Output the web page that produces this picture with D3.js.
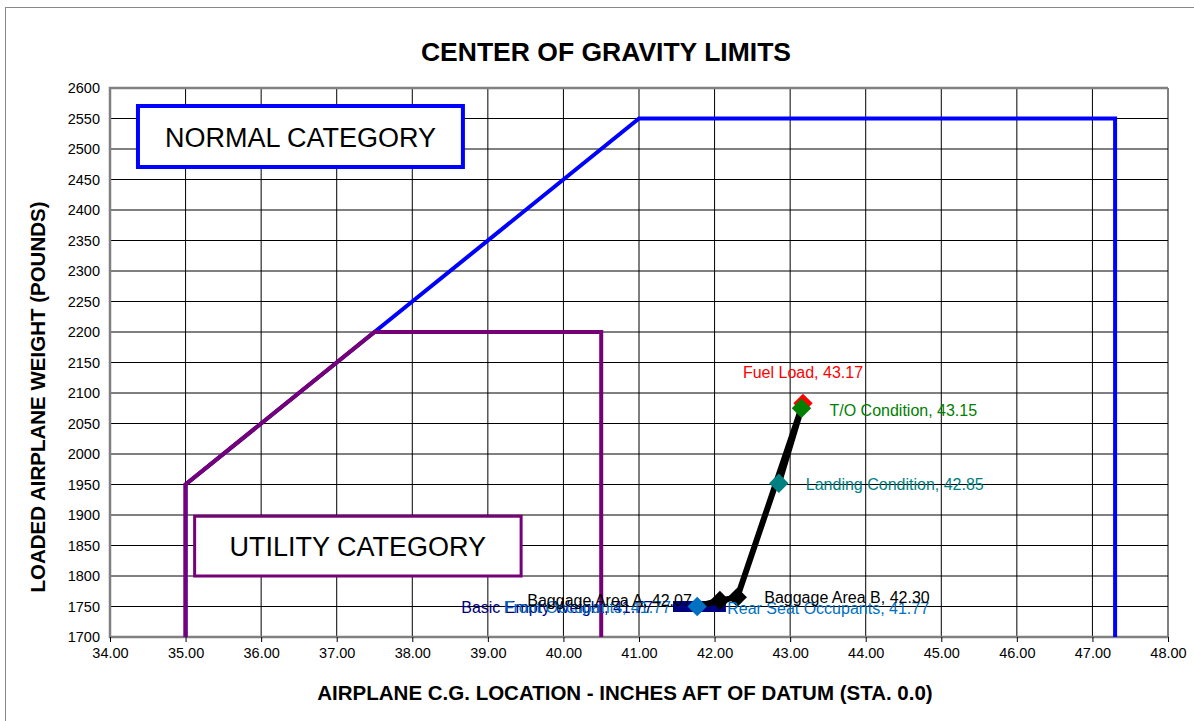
<!DOCTYPE html>
<html>
<head>
<meta charset="utf-8">
<script src="https://cdn.jsdelivr.net/npm/d3@7"></script>
<style>
body { margin: 0; background: #fff; }
text { font-family: "Liberation Sans", Arial, sans-serif; }
</style>
</head>
<body>
<script>
// envelopes
var normalCg = [35.0, 35.0, 41.0, 47.3, 47.3];
var normalWt = [1700, 1950, 2550, 2550, 1700];
var utilityCg = [35.0, 35.0, 37.5, 40.5, 40.5];
var utilityWt = [1700, 1950, 2200, 2200, 1700];

// loading points
var pointNames = ["Basic Empty Weight", "Front Occupants", "Rear Seat Occupants", "Baggage Area A",
    "Baggage Area B", "Fuel Load", "T/O Condition", "Landing Condition"];
var pointCg = [41.45, 42.15, 41.77, 42.07, 42.30, 43.17, 43.15, 42.85];
var pointWt = [1750, 1750, 1750, 1760, 1765, 2083, 2075, 1952];
var labelCg = ["41.77", "41.77", "41.77", "42.07", "42.30", "43.17", "43.15", "42.85"];

var xTicks = d3.range(34, 48.01, 1);
var yTicks = d3.range(1700, 2600.1, 50);

var pointColors = ["#000080", "#0070C0", "#0070C0", "#000", "#000", "#FF0000", "#008000", "#008080"];

var width = 1194, height = 721;
var svg = d3.select("body").append("svg").attr("width", width).attr("height", height);

var x = d3.scaleLinear().domain([34, 48]).range([110, 1168]);
var y = d3.scaleLinear().domain([1700, 2600]).range([637, 88]);

// chart frame
svg.append("rect").attr("x", 5.5).attr("y", 7.5).attr("width", 1200).attr("height", 720)
    .attr("fill", "#fff").attr("stroke", "#888").attr("stroke-width", 1);

svg.append("text").attr("x", 606).attr("y", 61).attr("text-anchor", "middle")
    .attr("font-size", "26.5px").attr("font-weight", "bold").text("CENTER OF GRAVITY LIMITS");

// grid
svg.append("g").selectAll("line").data(xTicks).enter().append("line")
    .attr("x1", function (d) { return x(d); }).attr("x2", function (d) { return x(d); })
    .attr("y1", y(2600)).attr("y2", y(1700))
    .attr("stroke", "#000").attr("stroke-width", 1);
svg.append("g").selectAll("line").data(yTicks).enter().append("line")
    .attr("x1", x(34)).attr("x2", x(48))
    .attr("y1", function (d) { return y(d); }).attr("y2", function (d) { return y(d); })
    .attr("stroke", "#000").attr("stroke-width", 1);

svg.append("path")
    .attr("d", "M" + x(48) + "," + y(2600) + "H" + x(34) + "V" + y(1700) + "H" + x(48))
    .attr("fill", "none").attr("stroke", "#808080").attr("stroke-width", 2.5);

// axes
var xAxis = svg.append("g").attr("transform", "translate(0," + y(1700) + ")")
    .call(d3.axisBottom(x).tickValues(xTicks).tickSize(5).tickPadding(6).tickFormat(d3.format(".2f")));
xAxis.select(".domain").remove();
xAxis.selectAll("text").attr("font-size", "14.5px").attr("font-family", "Liberation Sans, Arial, sans-serif").attr("fill", "#000");

var yAxis = svg.append("g").attr("transform", "translate(" + x(34) + ",0)")
    .call(d3.axisLeft(y).tickValues(yTicks).tickSize(0).tickPadding(10).tickFormat(d3.format("d")));
yAxis.select(".domain").remove();
yAxis.selectAll("text").attr("font-size", "14.5px").attr("font-family", "Liberation Sans, Arial, sans-serif").attr("fill", "#000");

svg.append("text").attr("x", 625).attr("y", 700).attr("text-anchor", "middle")
    .attr("font-size", "20.5px").attr("font-weight", "bold")
    .text("AIRPLANE C.G. LOCATION - INCHES AFT OF DATUM (STA. 0.0)");
svg.append("text").attr("transform", "translate(45,397) rotate(-90)").attr("text-anchor", "middle")
    .attr("font-size", "20.5px").attr("font-weight", "bold")
    .text("LOADED AIRPLANE WEIGHT (POUNDS)");

// envelopes
var line = d3.line().x(function (d) { return x(d[0]); }).y(function (d) { return y(d[1]); });
svg.append("path").datum(d3.zip(normalCg, normalWt)).attr("d", line)
    .attr("fill", "none").attr("stroke", "#0000FF").attr("stroke-width", 4);
svg.append("path").datum(d3.zip(utilityCg, utilityWt)).attr("d", line)
    .attr("fill", "none").attr("stroke", "#760076").attr("stroke-width", 4);

// category boxes
svg.append("rect").attr("x", x(34.37)).attr("y", y(2570.5))
    .attr("width", x(38.67) - x(34.37)).attr("height", y(2470.5) - y(2570.5))
    .attr("fill", "#fff").attr("stroke", "#0000FF").attr("stroke-width", 4);
svg.append("text").attr("x", x(36.52)).attr("y", y(2520) + 10).attr("text-anchor", "middle")
    .attr("font-size", "27px").text("NORMAL CATEGORY");
svg.append("rect").attr("x", x(35.12)).attr("y", y(1898))
    .attr("width", x(39.44) - x(35.12)).attr("height", y(1800) - y(1898))
    .attr("fill", "#fff").attr("stroke", "#760076").attr("stroke-width", 3);
svg.append("text").attr("x", x(37.28)).attr("y", y(1849) + 10).attr("text-anchor", "middle")
    .attr("font-size", "27px").text("UTILITY CATEGORY");

// loading path
var pts = d3.zip(pointCg, pointWt);
svg.append("path").datum(pts.slice(0, 2)).attr("d", line)
    .attr("fill", "none").attr("stroke", "#000080").attr("stroke-width", 11);
svg.append("path").datum(pts.slice(2)).attr("d", line)
    .attr("fill", "none").attr("stroke", "#000").attr("stroke-width", 6).attr("stroke-linejoin", "round");

var markerIdx = [3, 4, 5, 6, 7, 2];
svg.selectAll(".mk").data(markerIdx).enter().append("path")
    .attr("class", "mk")
    .attr("d", d3.symbol().type(d3.symbolDiamond2).size(240))
    .attr("transform", function (i) { return "translate(" + x(pointCg[i]) + "," + y(pointWt[i]) + ")"; })
    .attr("fill", function (i) { return pointColors[i]; });

// labels: anchor side per point
var labelSide = ["end", "end", "start", "end", "start", "middle", "start", "start"];
var labelDx = [-20, -55, 30, -28, 27, 0, 28, 27];
var labelDy = [6, 6, 7, 6, 6, -25, 8, 7];
svg.selectAll(".lb").data(d3.range(pointNames.length)).enter().append("text")
    .attr("class", "lb")
    .attr("x", function (i) { return x(pointCg[i]) + labelDx[i]; })
    .attr("y", function (i) { return y(pointWt[i]) + labelDy[i]; })
    .attr("text-anchor", function (i) { return labelSide[i]; })
    .attr("font-size", "16px")
    .attr("fill", function (i) { return pointColors[i]; })
    .text(function (i) { return pointNames[i] + ", " + labelCg[i]; });
</script>
</body>
</html>
